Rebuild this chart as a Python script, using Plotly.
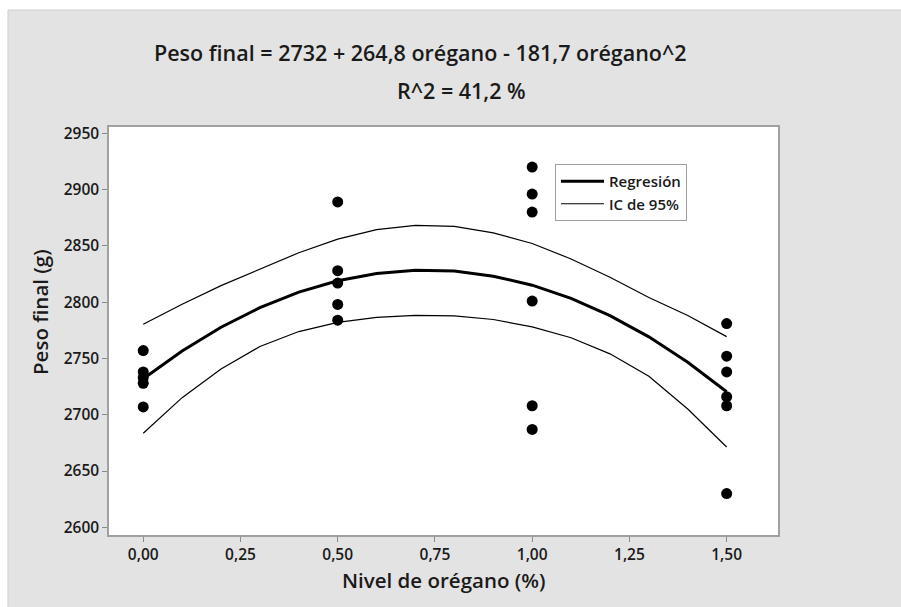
import plotly.graph_objects as go

# ---- data ----
x_levels_0 = [0.0, 0.0, 0.0, 0.0, 0.0]
peso_0 = [2757, 2738, 2733, 2728, 2707]
x_levels_05 = [0.5, 0.5, 0.5, 0.5, 0.5]
peso_05 = [2889, 2828, 2817, 2798, 2784]
x_levels_1 = [1.0, 1.0, 1.0, 1.0, 1.0, 1.0]
peso_1 = [2920, 2896, 2880, 2801, 2708, 2687]
x_levels_15 = [1.5, 1.5, 1.5, 1.5, 1.5, 1.5]
peso_15 = [2781, 2752, 2738, 2716, 2708, 2630]

curve_x = [0.0, 0.1, 0.2, 0.3, 0.4, 0.5, 0.6, 0.7, 0.8, 0.9, 1.0, 1.1, 1.2, 1.3, 1.4, 1.5]
regresion = [2732.0, 2756.7, 2777.7, 2795.1, 2808.9, 2819.0, 2825.5, 2828.3,
             2827.6, 2823.1, 2815.1, 2803.4, 2788.1, 2769.2, 2746.6, 2720.4]
ic_sup = [2780.4, 2798.2, 2814.7, 2829.6, 2843.9, 2856.0, 2864.5, 2868.3,
          2867.4, 2861.6, 2852.1, 2838.4, 2822.1, 2804.2, 2788.1, 2769.4]
ic_inf = [2683.6, 2715.2, 2740.7, 2760.6, 2773.9, 2782.0, 2786.5, 2788.3,
          2787.8, 2784.6, 2778.1, 2768.4, 2754.1, 2734.2, 2705.1, 2671.4]

x_ticks = [0.0, 0.25, 0.5, 0.75, 1.0, 1.25, 1.5]
x_tick_labels = ["0,00", "0,25", "0,50", "0,75", "1,00", "1,25", "1,50"]
y_ticks = [2600, 2650, 2700, 2750, 2800, 2850, 2900, 2950]

titulo_1 = "Peso final = 2732 + 264,8 orégano - 181,7 orégano^2"
titulo_2 = "R^2 = 41,2 %"
x_titulo = "Nivel de orégano (%)"
y_titulo = "Peso final (g)"

FONT = "Open Sans"
TXT = "#1a1a1a"

pts_x = x_levels_0 + x_levels_05 + x_levels_1 + x_levels_15
pts_y = peso_0 + peso_05 + peso_1 + peso_15

fig = go.Figure()
fig.add_trace(go.Scatter(x=pts_x, y=pts_y, mode="markers", showlegend=False,
                         marker=dict(size=11, color="black"), hoverinfo="x+y"))
fig.add_trace(go.Scatter(x=curve_x, y=regresion, mode="lines", name="Regresión",
                         line=dict(color="black", width=3)))
fig.add_trace(go.Scatter(x=curve_x, y=ic_sup, mode="lines", name="IC de 95%",
                         line=dict(color="black", width=1.2), legendgroup="ic"))
fig.add_trace(go.Scatter(x=curve_x, y=ic_inf, mode="lines", name="IC de 95%", showlegend=False,
                         line=dict(color="black", width=1.2), legendgroup="ic"))

W, H = 901, 607
ml, mr, mt, mb = 109, 123, 127, 72
pw, ph = W - ml - mr, H - mt - mb

def px_x(p):
    return (p - ml) / pw

def px_y(p):
    return (H - mb - p) / ph

shapes = [
    dict(type="rect", xref="paper", yref="paper", x0=px_x(-5), x1=px_x(W + 5), y0=px_y(0 - 5), y1=px_y(10),
         fillcolor="white", line=dict(width=0), layer="below"),
    dict(type="rect", xref="paper", yref="paper", x0=px_x(-5), x1=px_x(8), y0=px_y(H + 5), y1=px_y(-5),
         fillcolor="white", line=dict(width=0), layer="below"),
    dict(type="line", xref="paper", yref="paper", x0=px_x(8), x1=px_x(W + 5), y0=px_y(10), y1=px_y(10),
         line=dict(color="#cfcfcf", width=1), layer="below"),
    dict(type="line", xref="paper", yref="paper", x0=px_x(8), x1=px_x(8), y0=px_y(10), y1=px_y(H + 5),
         line=dict(color="#cfcfcf", width=1), layer="below"),
]

annotations = [
    dict(text=titulo_1, xref="paper", yref="paper", x=px_x(420), y=px_y(53),
         xanchor="center", yanchor="middle", showarrow=False,
         font=dict(family=FONT, size=21.5, color=TXT, weight=600)),
    dict(text=titulo_2, xref="paper", yref="paper", x=px_x(461), y=px_y(90),
         xanchor="center", yanchor="middle", showarrow=False,
         font=dict(family=FONT, size=21.5, color=TXT, weight=600)),
    dict(text=x_titulo, xref="paper", yref="paper", x=px_x(443), y=px_y(580),
         xanchor="center", yanchor="middle", showarrow=False,
         font=dict(family=FONT, size=20.5, color=TXT, weight=600)),
    dict(text=y_titulo, xref="paper", yref="paper", x=px_x(40), y=px_y(312), textangle=-90,
         xanchor="center", yanchor="middle", showarrow=False,
         font=dict(family=FONT, size=20.5, color=TXT, weight=600)),
]

axis_common = dict(showgrid=False, zeroline=False, showline=True, mirror=True,
                   linecolor="#a0a0a0", linewidth=1.5, ticks="outside", ticklen=5,
                   tickcolor="#8a8a8a", tickwidth=1,
                   tickfont=dict(family=FONT, size=15.5, color=TXT, weight=600))

fig.update_layout(
    width=W, height=H,
    margin=dict(l=ml, r=mr, t=mt, b=mb),
    paper_bgcolor="#e3e3e3", plot_bgcolor="white",
    shapes=shapes, annotations=annotations,
    xaxis=dict(range=[-0.088, 1.632], tickvals=x_ticks, ticktext=x_tick_labels, **axis_common),
    yaxis=dict(range=[2593.2, 2955.6], tickvals=y_ticks, **axis_common),
    legend=dict(x=px_x(555), y=px_y(164), xanchor="left", yanchor="top",
                bgcolor="white", bordercolor="#a0a0a0", borderwidth=1,
                font=dict(family=FONT, size=15, color=TXT, weight=600),
                tracegroupgap=0, itemwidth=43),
    showlegend=True,
)

fig.write_html("out.html", config={"displayModeBar": False},
               post_script="document.body.style.margin='0px';")
